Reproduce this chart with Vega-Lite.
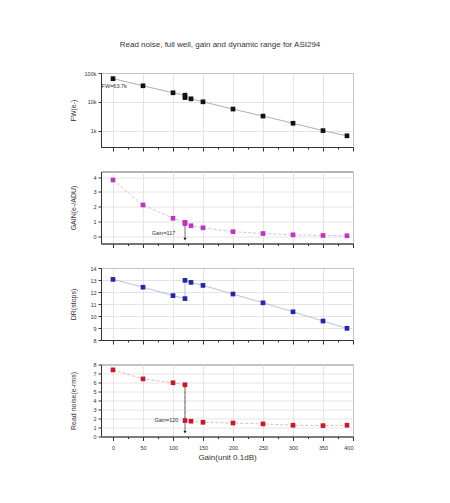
{
  "$schema": "https://vega.github.io/schema/vega-lite/v6.json",
  "padding": {"left": 69, "top": 40, "right": 5, "bottom": 5},
  "background": "white",
  "title": {"text": "Read noise, full well, gain and dynamic range for ASI294", "fontSize": 8, "fontWeight": "normal", "font": "Liberation Sans", "color": "#333", "offset": 22, "anchor": "middle", "dx": 8.5},
  "config": {
    "font": "Liberation Sans",
    "view": {"stroke": "#666", "strokeWidth": 1},
    "axis": {"labelFontSize": 5.5, "labelColor": "#333", "titleFontSize": 7, "titleFontWeight": "normal", "titleColor": "#333", "tickColor": "#333", "domainColor": "#333", "gridColor": "#ddd", "gridWidth": 0.8, "tickSize": 3, "labelPadding": 2}
  },
  "datasets": {
    "fw": [
      {"i": 0, "gain": 0, "v": 63700}, {"i": 1, "gain": 50, "v": 36000}, {"i": 2, "gain": 100, "v": 20600},
      {"i": 3, "gain": 120, "v": 17000}, {"i": 4, "gain": 120, "v": 14000}, {"i": 5, "gain": 130, "v": 12700},
      {"i": 6, "gain": 150, "v": 10000}, {"i": 7, "gain": 200, "v": 5600}, {"i": 8, "gain": 250, "v": 3200},
      {"i": 9, "gain": 300, "v": 1800}, {"i": 10, "gain": 350, "v": 1000}, {"i": 11, "gain": 390, "v": 660}
    ],
    "gainData": [
      {"i": 0, "gain": 0, "v": 3.8}, {"i": 1, "gain": 50, "v": 2.13}, {"i": 2, "gain": 100, "v": 1.24},
      {"i": 3, "gain": 120, "v": 0.97}, {"i": 4, "gain": 120, "v": 0.88}, {"i": 5, "gain": 130, "v": 0.74},
      {"i": 6, "gain": 150, "v": 0.6}, {"i": 7, "gain": 200, "v": 0.34}, {"i": 8, "gain": 250, "v": 0.22},
      {"i": 9, "gain": 300, "v": 0.13}, {"i": 10, "gain": 350, "v": 0.09}, {"i": 11, "gain": 390, "v": 0.07}
    ],
    "dr": [
      {"i": 0, "gain": 0, "v": 13.05}, {"i": 1, "gain": 50, "v": 12.4}, {"i": 2, "gain": 100, "v": 11.7},
      {"i": 3, "gain": 120, "v": 11.45}, {"i": 4, "gain": 120, "v": 12.97}, {"i": 5, "gain": 130, "v": 12.8},
      {"i": 6, "gain": 150, "v": 12.55}, {"i": 7, "gain": 200, "v": 11.83}, {"i": 8, "gain": 250, "v": 11.1},
      {"i": 9, "gain": 300, "v": 10.35}, {"i": 10, "gain": 350, "v": 9.58}, {"i": 11, "gain": 390, "v": 8.97}
    ],
    "rn": [
      {"i": 0, "gain": 0, "v": 7.4}, {"i": 1, "gain": 50, "v": 6.4}, {"i": 2, "gain": 100, "v": 5.97},
      {"i": 3, "gain": 120, "v": 5.75}, {"i": 4, "gain": 120, "v": 1.77}, {"i": 5, "gain": 130, "v": 1.7},
      {"i": 6, "gain": 150, "v": 1.58}, {"i": 7, "gain": 200, "v": 1.5}, {"i": 8, "gain": 250, "v": 1.4},
      {"i": 9, "gain": 300, "v": 1.25}, {"i": 10, "gain": 350, "v": 1.21}, {"i": 11, "gain": 390, "v": 1.25}
    ]
  },
  "vconcat": [
    {
      "width": 252, "height": 74,
      "encoding": {
        "x": {"field": "gain", "type": "quantitative", "scale": {"domain": [-20, 400], "nice": false, "zero": false},
          "axis": {"values": [0,25,50,75,100,125,150,175,200,225,250,275,300,325,350,375,400], "labels": false, "title": null,
            "gridOpacity": {"condition": {"test": "datum.value % 50 === 0", "value": 1}, "value": 0},
            "tickSize": {"condition": {"test": "datum.value % 50 === 0", "value": 4}, "value": 2}}},
        "y": {"field": "v", "type": "quantitative", "scale": {"type": "log", "domain": [270, 100000], "nice": false},
          "axis": {"values": [1000, 10000, 100000], "labelExpr": "(datum.value / 1000) + 'k'", "title": "FW(e-)", "titleX": -27.5, "titleBaseline": "middle", "titleAngle": -90}}
      },
      "layer": [
        {"data": {"name": "fw"}, "mark": {"type": "line", "color": "#999", "strokeWidth": 0.8}, "encoding": {"order": {"field": "i"}}},
        {"data": {"name": "fw"}, "mark": {"type": "point", "shape": "square", "filled": true, "size": 22, "color": "#111", "opacity": 1}},
        {"data": {"values": [{"gain": -19, "v": 36000, "t": "FW=63.7k"}]}, "mark": {"type": "text", "align": "left", "baseline": "middle", "fontSize": 5.5, "color": "#333"}, "encoding": {"text": {"field": "t"}}}
      ]
    },
    {
      "width": 252, "height": 72,
      "encoding": {
        "x": {"field": "gain", "type": "quantitative", "scale": {"domain": [-20, 400], "nice": false, "zero": false},
          "axis": {"values": [0,25,50,75,100,125,150,175,200,225,250,275,300,325,350,375,400], "labels": false, "title": null,
            "gridOpacity": {"condition": {"test": "datum.value % 50 === 0", "value": 1}, "value": 0},
            "tickSize": {"condition": {"test": "datum.value % 50 === 0", "value": 4}, "value": 2}}},
        "y": {"field": "v", "type": "quantitative", "scale": {"domain": [-0.45, 4.37], "nice": false, "zero": false},
          "axis": {"values": [0, 1, 2, 3, 4], "title": "GAIN(e-/ADU)", "titleX": -27.5, "titleBaseline": "middle", "titleAngle": -90}}
      },
      "layer": [
        {"data": {"name": "gainData"}, "mark": {"type": "line", "color": "#d9a3d9", "strokeWidth": 0.8, "strokeDash": [3, 2]}, "encoding": {"order": {"field": "i"}}},
        {"data": {"values": [{"gain": 120, "v": 0.97, "v2": -0.15}]}, "mark": {"type": "rule", "color": "#333", "strokeWidth": 0.7}, "encoding": {"y2": {"field": "v2"}}},
        {"data": {"values": [{"gain": 120, "v": -0.15}]}, "mark": {"type": "point", "shape": "triangle-down", "filled": true, "size": 10, "color": "#222", "opacity": 1}},
        {"data": {"name": "gainData"}, "mark": {"type": "point", "shape": "square", "filled": true, "size": 22, "color": "#b83ab8", "opacity": 1}},
        {"data": {"values": [{"gain": 104, "v": 0.27, "t": "Gain=117"}]}, "mark": {"type": "text", "align": "right", "baseline": "middle", "fontSize": 5.5, "color": "#333"}, "encoding": {"text": {"field": "t"}}}
      ]
    },
    {
      "width": 252, "height": 72,
      "encoding": {
        "x": {"field": "gain", "type": "quantitative", "scale": {"domain": [-20, 400], "nice": false, "zero": false},
          "axis": {"values": [0,25,50,75,100,125,150,175,200,225,250,275,300,325,350,375,400], "labels": false, "title": null,
            "gridOpacity": {"condition": {"test": "datum.value % 50 === 0", "value": 1}, "value": 0},
            "tickSize": {"condition": {"test": "datum.value % 50 === 0", "value": 4}, "value": 2}}},
        "y": {"field": "v", "type": "quantitative", "scale": {"domain": [8, 14], "nice": false, "zero": false},
          "axis": {"values": [8, 9, 10, 11, 12, 13, 14], "title": "DR(stops)", "titleX": -27.5, "titleBaseline": "middle", "titleAngle": -90}}
      },
      "layer": [
        {"data": {"name": "dr"}, "mark": {"type": "line", "color": "#a9afd6", "strokeWidth": 0.8}, "encoding": {"order": {"field": "i"}}},
        {"data": {"name": "dr"}, "mark": {"type": "point", "shape": "square", "filled": true, "size": 22, "color": "#26269e", "opacity": 1}}
      ]
    },
    {
      "width": 252, "height": 72,
      "encoding": {
        "x": {"field": "gain", "type": "quantitative", "scale": {"domain": [-20, 400], "nice": false, "zero": false},
          "axis": {"values": [0,25,50,75,100,125,150,175,200,225,250,275,300,325,350,375,400], "title": "Gain(unit 0.1dB)", "titlePadding": 3, "titleFontSize": 8, "labelPadding": 4.5,
            "labelExpr": "datum.value % 50 === 0 ? datum.label : ''",
            "gridOpacity": {"condition": {"test": "datum.value % 50 === 0", "value": 1}, "value": 0},
            "tickSize": {"condition": {"test": "datum.value % 50 === 0", "value": 4}, "value": 2}}},
        "y": {"field": "v", "type": "quantitative", "scale": {"domain": [0, 8], "nice": false, "zero": false},
          "axis": {"values": [0, 1, 2, 3, 4, 5, 6, 7, 8], "title": "Read noise(e-rms)", "titleX": -27.5, "titleBaseline": "middle", "titleAngle": -90}}
      },
      "layer": [
        {"data": {"name": "rn"}, "mark": {"type": "line", "color": "#e3a6a6", "strokeWidth": 0.8, "strokeDash": [3, 2]}, "encoding": {"order": {"field": "i"}}},
        {"data": {"values": [{"gain": 120, "v": 5.75, "v2": 0.48}]}, "mark": {"type": "rule", "color": "#333", "strokeWidth": 0.7}, "encoding": {"y2": {"field": "v2"}}},
        {"data": {"values": [{"gain": 120, "v": 0.48}]}, "mark": {"type": "point", "shape": "triangle-down", "filled": true, "size": 10, "color": "#222", "opacity": 1}},
        {"data": {"name": "rn"}, "mark": {"type": "point", "shape": "square", "filled": true, "size": 22, "color": "#c41a30", "opacity": 1}},
        {"data": {"values": [{"gain": 109, "v": 1.8, "t": "Gain=120"}]}, "mark": {"type": "text", "align": "right", "baseline": "middle", "fontSize": 5.5, "color": "#333"}, "encoding": {"text": {"field": "t"}}}
      ]
    }
  ],
  "spacing": 24.5,
  "bounds": "flush"
}
